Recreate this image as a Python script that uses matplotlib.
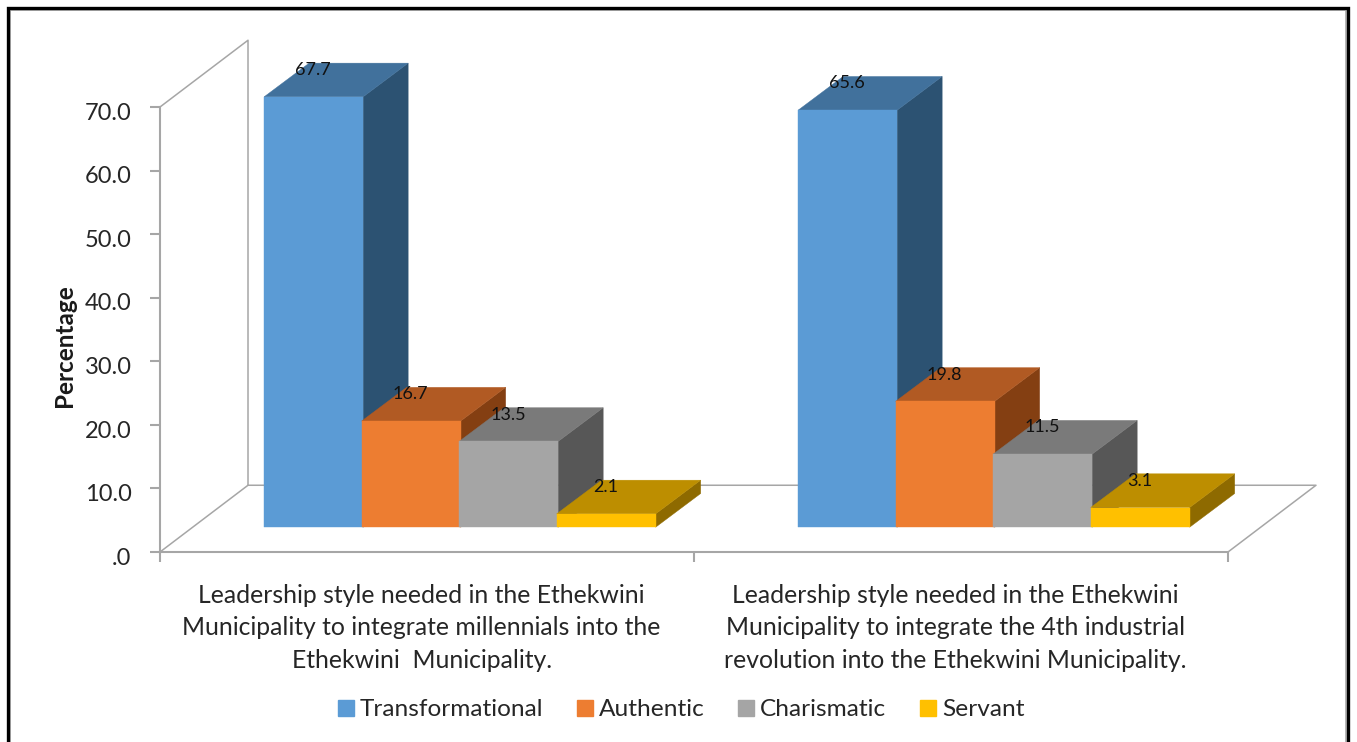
import matplotlib
matplotlib.use("Agg")
import matplotlib.pyplot as plt
from matplotlib.lines import Line2D
from matplotlib.patches import Patch, Polygon
from matplotlib.ticker import FuncFormatter
from matplotlib.transforms import ScaledTranslation

plt.rcParams['font.family'] = ['Lato', 'DejaVu Sans']

W, H = 1357, 742

series = ["Transformational", "Authentic", "Charismatic", "Servant"]
millennials = [67.7, 16.7, 13.5, 2.1]
industrial = [65.6, 19.8, 11.5, 3.1]
categories = [
    "Leadership style needed in the Ethekwini\nMunicipality to integrate millennials into the\nEthekwini  Municipality.",
    "Leadership style needed in the Ethekwini\nMunicipality to integrate the 4th industrial\nrevolution into the Ethekwini Municipality.",
]
y_ticks = [0, 10, 20, 30, 40, 50, 60, 70]

front_colors = ["#5B9BD5", "#ED7D31", "#A5A5A5", "#FFC000"]
top_colors = ["#41719C", "#B15A23", "#7A7A7A", "#BD8E00"]
side_colors = ["#2C5272", "#843F12", "#575757", "#8E6A00"]
WALL = "#A6A6A6"
TEXT = "#262626"

fig = plt.figure(figsize=(W / 100, H / 100), dpi=100, facecolor="white")
ax = fig.add_axes([160 / W, 1 - 552 / H, 1068 / W, 445 / H])
ax.set_xlim(0, 2)
ax.set_ylim(0, 70)
ax.patch.set_visible(False)

# Oblique projection used for the pseudo-3D look, in data units
bar_pitch = 0.1826
bar_w = 0.1854
bar_dx, bar_dy = 0.0843, 5.3
wall_dx, wall_dy = 0.1648, 10.5
group_pad = 0.195
floor = 3.9

# Back wall and floor outline
ax.plot([0, wall_dx, wall_dx, 0], [0, wall_dy, 70 + wall_dy, 70],
        color=WALL, lw=1.1, clip_on=False, zorder=1)
ax.plot([wall_dx, 2 + wall_dx, 2], [wall_dy, wall_dy, 0],
        color=WALL, lw=1.1, clip_on=False, zorder=1)


def face(points, color, z):
    ax.add_patch(Polygon(points, closed=True, facecolor=color, edgecolor=color,
                         lw=0.3, clip_on=False, zorder=z))


# Bars: each one gets a side, a top and a front face, painted left to right
z = 2
for g, values in enumerate([millennials, industrial]):
    for s, v in enumerate(values):
        x0 = g + group_pad + s * bar_pitch
        x1 = x0 + bar_w
        y0, y1 = floor, floor + v
        face([(x1, y0), (x1 + bar_dx, y0 + bar_dy), (x1 + bar_dx, y1 + bar_dy), (x1, y1)],
             side_colors[s], z)
        face([(x0, y1), (x1, y1), (x1 + bar_dx, y1 + bar_dy), (x0 + bar_dx, y1 + bar_dy)],
             top_colors[s], z)
        face([(x0, y0), (x1, y0), (x1, y1), (x0, y1)], front_colors[s], z)
        z += 1

# Value labels sit on the top face of each bar
for g, values in enumerate([millennials, industrial]):
    for s, v in enumerate(values):
        x0 = g + group_pad + s * bar_pitch
        ax.text(x0 + 0.0915, floor + v + 4.2, f"{v:.1f}", ha="center", va="center",
                fontsize=13, color="#111111", zorder=50, clip_on=False)

# Axes
for name in ("top", "right"):
    ax.spines[name].set_visible(False)
for name in ("left", "bottom"):
    ax.spines[name].set_color(WALL)
    ax.spines[name].set_linewidth(1.5)
    ax.spines[name].set_zorder(1)

ax.set_yticks(y_ticks)
ax.yaxis.set_major_formatter(FuncFormatter(lambda v, _: f"{v:.1f}" if v else ".0"))
ax.tick_params(axis="y", length=7, width=1.5, color=WALL, labelsize=17, labelcolor=TEXT, pad=13.5)
label_shift = ScaledTranslation(0, -3 / 72, fig.dpi_scale_trans)
for lbl in ax.get_yticklabels():
    lbl.set_transform(lbl.get_transform() + label_shift)

ax.set_xticks([0, 1, 2])
ax.set_xticklabels([])
ax.tick_params(axis="x", which="major", length=7, width=1.5, color=WALL)
ax.set_xticks([0.49, 1.49], minor=True)
ax.set_xticklabels(categories, minor=True, fontsize=17.8, color=TEXT, linespacing=1.5)
ax.tick_params(axis="x", which="minor", length=0, pad=23)

fig.text(65 / W, 1 - 346 / H, "Percentage", rotation=90, ha="center", va="center",
         fontsize=17.5, fontweight="bold", color="#1a1a1a")

handles = [Patch(facecolor=c, edgecolor=c) for c in front_colors]
fig.legend(handles, series, loc="center", bbox_to_anchor=(681 / W, 1 - 710 / H), ncol=4,
           frameon=False, fontsize=17.6, labelcolor=TEXT, handlelength=0.66, handleheight=0.66,
           handletextpad=0.25, columnspacing=1.36, borderpad=0, borderaxespad=0)

# Outer border, open along the lower edge
for dx, color, lw in ((2, "#B5B5B5", 1.4), (0, "black", 2.4)):
    fig.add_artist(Line2D([(8 + dx) / W, (8 + dx) / W, (1348 - dx) / W, (1348 - dx) / W],
                          [0, 1 - (8 + dx) / H, 1 - (8 + dx) / H, 0],
                          color=color, lw=lw, solid_joinstyle="miter"))

fig.savefig("out.png", dpi=100, facecolor="white")
